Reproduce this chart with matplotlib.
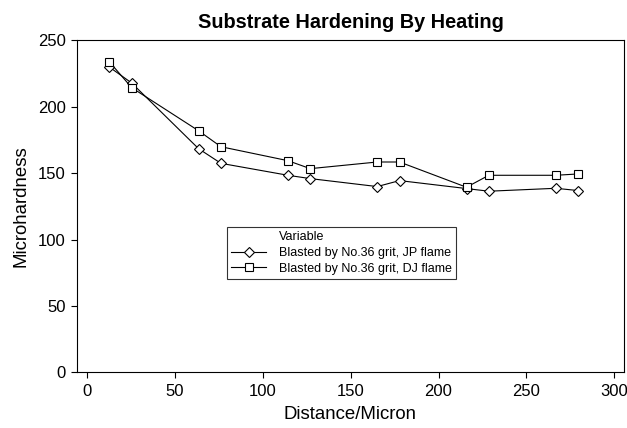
import matplotlib
matplotlib.use("Agg")
import matplotlib.pyplot as plt
from matplotlib.lines import Line2D

plt.rcParams['font.family'] = ['Liberation Sans', 'DejaVu Sans']

# distance in microns and hardness
distance = [12.7, 25.4, 63.5, 76.2, 114.3, 127.0, 165.1, 177.8, 215.9, 228.6, 266.7, 279.4]
jp_flame = [230, 218, 168.5, 157.5, 148.5, 146, 140, 144.5, 138.5, 136.5, 138.7, 137]
dj_flame = [234, 214.5, 182, 170, 159.5, 153.5, 158.5, 158.5, 139.5, 148.5, 148.5, 149.5]

fig = plt.figure(figsize=(6.27, 4.28), dpi=100)
ax = fig.add_axes([0.1228, 0.1297, 0.8724, 0.7757])

ax.plot(distance, jp_flame, color='black', lw=0.8, marker='D', ms=5.2,
        mfc='white', mec='black', mew=0.8, label='Blasted by No.36 grit, JP flame')
ax.plot(distance, dj_flame, color='black', lw=0.8, marker='s', ms=5.8,
        mfc='white', mec='black', mew=0.8, label='Blasted by No.36 grit, DJ flame')

ax.set_xlim(-5.7, 305.5)
ax.set_ylim(0, 250)
ax.set_xticks([0, 50, 100, 150, 200, 250, 300])
ax.set_yticks([0, 50, 100, 150, 200, 250])
ax.tick_params(labelsize=12, length=4, width=0.8, direction='out', pad=4)
for s in ax.spines.values():
    s.set_linewidth(0.8)

ax.set_title('Substrate Hardening By Heating', fontsize=14.3, fontweight='bold', pad=9)
ax.set_xlabel('Distance/Micron', fontsize=13.4, labelpad=5)
ax.set_ylabel('Microhardness', fontsize=13.4, labelpad=6)

# legend with the "Variable" header sitting in the label column
h, l = ax.get_legend_handles_labels()
header = Line2D([], [], linestyle='none', marker=None)
leg = ax.legend([header] + h, ['Variable'] + l, loc='upper left',
                bbox_to_anchor=(0.362, 0.470), bbox_transform=fig.transFigure,
                borderaxespad=0, fontsize=9, frameon=True, fancybox=False,
                edgecolor='black', handlelength=2.8, handletextpad=1.0,
                labelspacing=0.3, borderpad=0.35)
leg.get_frame().set_linewidth(0.8)

fig.savefig('out.png', dpi=100)
